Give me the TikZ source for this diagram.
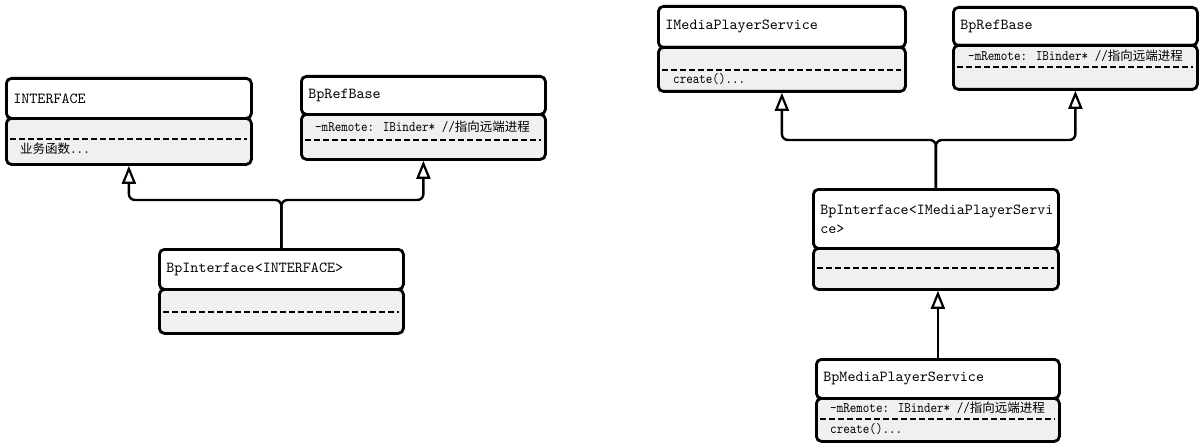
\documentclass[tikz,border=0pt]{standalone}
\usepackage{fontspec}
\newfontfamily\hdrfont[Extension=.otf]{lmmono10-regular}
\newfontfamily\attrfont[Extension=.otf, FakeStretch=0.86]{lmmono10-regular}
\newfontfamily\cjk{Noto Sans CJK SC}
\newcommand\zh[1]{{\cjk\fontsize{12.5}{16}\selectfont #1}}
\usetikzlibrary{arrows.meta}
\definecolor{compgray}{HTML}{F0F0F0}
\tikzset{
  box/.style={draw=black, line width=2.8pt, rounded corners=5pt, anchor=north west, inner sep=0pt},
  hdr/.style={box, fill=white, font=\hdrfont\fontsize{15.3}{19}\selectfont, align=left, inner xsep=7pt},
  comp/.style={box, fill=compgray},
  sep/.style={line width=2.4pt, dash pattern=on 6pt off 3pt},
  attr/.style={anchor=west, inner sep=0pt, font=\attrfont\fontsize{14.5}{18}\selectfont, text height=10pt, text depth=3pt},
  inh/.style={line width=2.4pt, rounded corners=6pt, -{Triangle[open, length=18pt, width=14pt, fill=white, line width=2.2pt]}},
}
\begin{document}
\begin{tikzpicture}[x=1pt,y=-1pt]
\useasboundingbox (0,0) rectangle (1203,444);
% ---------- left diagram ----------
\node[hdr, minimum width=245pt, text width=231pt, minimum height=40pt] (iface) at (5,77) {INTERFACE};
\node[comp, minimum width=245pt, minimum height=46pt] (ifaceC) at (5,117) {};
\draw[sep] (10,139) -- (247,139);
\node[attr] (ifaceOp) at (20,150) {\zh{业务函数}...};

\node[hdr, minimum width=244pt, text width=230pt, minimum height=38pt] (refL) at (300,75) {BpRefBase};
\node[comp, minimum width=244pt, minimum height=45pt] (refLC) at (300,113) {};
\node[attr] (refLA) at (315,128) {-mRemote: IBinder* //\zh{指向远端进程}};
\draw[sep] (305,140) -- (541,140);

\node[hdr, minimum width=244pt, text width=230pt, minimum height=40pt] (bpiL) at (158,248) {BpInterface<INTERFACE>};
\node[comp, minimum width=244pt, minimum height=44pt] (bpiLC) at (158,288) {};
\draw[sep] (163,312) -- (399,312);

\path (bpiL.north) ++(0,-48) coordinate (jL);
\draw[inh] (bpiL.north) -- (jL) -| (ifaceC.south);
\draw[inh] (bpiL.north) -- (jL) -| (refLC.south);

% ---------- right diagram ----------
\node[hdr, minimum width=247pt, text width=233pt, minimum height=41pt] (imps) at (657,5) {IMediaPlayerService};
\node[comp, minimum width=247pt, minimum height=44pt] (impsC) at (657,46) {};
\draw[sep] (662,70) -- (901,70);
\node[attr] (impsOp) at (673,80) {create()...};

\node[hdr, minimum width=244pt, text width=230pt, minimum height=38pt] (refR) at (952,6) {BpRefBase};
\node[comp, minimum width=244pt, minimum height=44pt] (refRC) at (952,44) {};
\node[attr] (refRA) at (968,57) {-mRemote: IBinder* //\zh{指向远端进程}};
\draw[sep] (957,67) -- (1193,67);

\node[hdr, minimum width=245pt, text width=231pt, minimum height=59pt] (bpiR) at (812,188) {BpInterface<IMediaPlayerServi\\ce>};
\node[comp, minimum width=245pt, minimum height=41pt] (bpiRC) at (812,247) {};
\draw[sep] (817,268) -- (1054,268);

\node[hdr, minimum width=243pt, text width=229pt, minimum height=39pt] (bmp) at (815,358) {BpMediaPlayerService};
\node[comp, minimum width=243pt, minimum height=43pt] (bmpC) at (815,397) {};
\node[attr] (bmpA) at (830,409) {-mRemote: IBinder* //\zh{指向远端进程}};
\draw[sep] (820,419) -- (1055,419);
\node[attr] (bmpOp) at (830,430) {create()...};

\path (bpiR.north) ++(0,-48) coordinate (jR);
\draw[inh] (bpiR.north) -- (jR) -| (impsC.south);
\draw[inh] (bpiR.north) -- (jR) -| (refRC.south);
\draw[inh] (bmp.north) -- (bmp.north |- bpiRC.south);
\end{tikzpicture}
\end{document}
